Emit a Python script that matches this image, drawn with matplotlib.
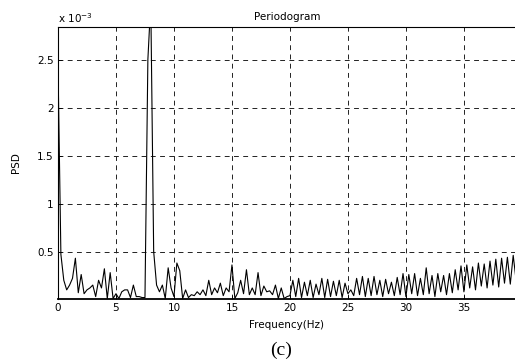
import numpy as np
import matplotlib
matplotlib.use("Agg")
import matplotlib.pyplot as plt

# PSD values in units of 1e-3, one per 0.25 Hz bin
psd_0_10 = [2.45, 0.47, 0.20, 0.10, 0.15, 0.22, 0.43, 0.07, 0.26, 0.06,
            0.10, 0.12, 0.15, 0.03, 0.20, 0.12, 0.32, 0.01, 0.28, 0.01,
            0.06, 0.01, 0.08, 0.10, 0.10, 0.02, 0.15, 0.03, 0.03, 0.02,
            0.02, 2.50, 3.10, 0.50, 0.15, 0.08, 0.15, 0.01, 0.33, 0.12]
psd_10_20 = [0.03, 0.38, 0.30, 0.01, 0.10, 0.02, 0.05, 0.04, 0.08, 0.05,
             0.10, 0.04, 0.20, 0.05, 0.12, 0.07, 0.17, 0.04, 0.12, 0.08,
             0.36, 0.01, 0.07, 0.20, 0.06, 0.31, 0.05, 0.12, 0.05, 0.28,
             0.04, 0.14, 0.08, 0.09, 0.05, 0.15, 0.01, 0.12, 0.01, 0.03]
psd_20_30 = [0.04, 0.20, 0.03, 0.22, 0.02, 0.18, 0.04, 0.20, 0.02, 0.16,
             0.05, 0.22, 0.02, 0.21, 0.03, 0.19, 0.04, 0.20, 0.02, 0.17,
             0.06, 0.10, 0.04, 0.22, 0.05, 0.24, 0.03, 0.22, 0.04, 0.24,
             0.05, 0.20, 0.03, 0.21, 0.06, 0.18, 0.04, 0.23, 0.05, 0.27]
psd_30_40 = [0.03, 0.26, 0.06, 0.27, 0.04, 0.22, 0.05, 0.33, 0.06, 0.25,
             0.03, 0.27, 0.08, 0.25, 0.05, 0.27, 0.07, 0.31, 0.10, 0.35,
             0.08, 0.36, 0.12, 0.34, 0.10, 0.38, 0.14, 0.37, 0.12, 0.40,
             0.15, 0.42, 0.13, 0.43, 0.17, 0.44, 0.16, 0.46, 0.20]
psd = np.array(psd_0_10 + psd_10_20 + psd_20_30 + psd_30_40)
df = 0.25
freq = np.arange(len(psd)) * df

xticks = [0, 5, 10, 15, 20, 25, 30, 35]
yticks = [0.5, 1, 1.5, 2, 2.5]
yticklabels = ["0.5", "1", "1.5", "2", "2.5"]

plt.rcParams['font.family'] = ['DejaVu Sans']
fig = plt.figure(figsize=(5.15, 3.64), dpi=100)
ax = fig.add_axes([0.1126, 0.1786, 0.8884, 0.7472])

ax.plot(freq, psd, color='black', lw=0.8)
ax.set_xlim(0, 39.45)
ax.set_ylim(0.005, 2.84)
ax.set_xticks(xticks)
ax.set_yticks(yticks)
ax.set_yticklabels(yticklabels)
ax.tick_params(direction='in', length=3, width=0.6, labelsize=7.5, pad=3, colors='black')
ax.grid(True, color='#222222', lw=0.7, linestyle=(0, (5, 4.5)))
for s in ['left', 'top', 'right']:
    ax.spines[s].set_linewidth(0.8)
ax.spines['bottom'].set_linewidth(1.3)

ax.set_title('Periodogram', fontsize=7.5, pad=5)
ax.set_xlabel('Frequency(Hz)', fontsize=7.5, labelpad=5)
ax.set_ylabel('PSD', fontsize=7.5, labelpad=12)
fig.text(58 / 515, 1 - 18 / 364, r'x 10$^{\mathregular{-3}}$', fontsize=7.5, va='center', ha='left')
fig.text(281 / 515, 1 - 350 / 364, '(c)', fontsize=14, ha='center', va='center',
         family='Liberation Serif')

plt.savefig("out.png", dpi=100)
